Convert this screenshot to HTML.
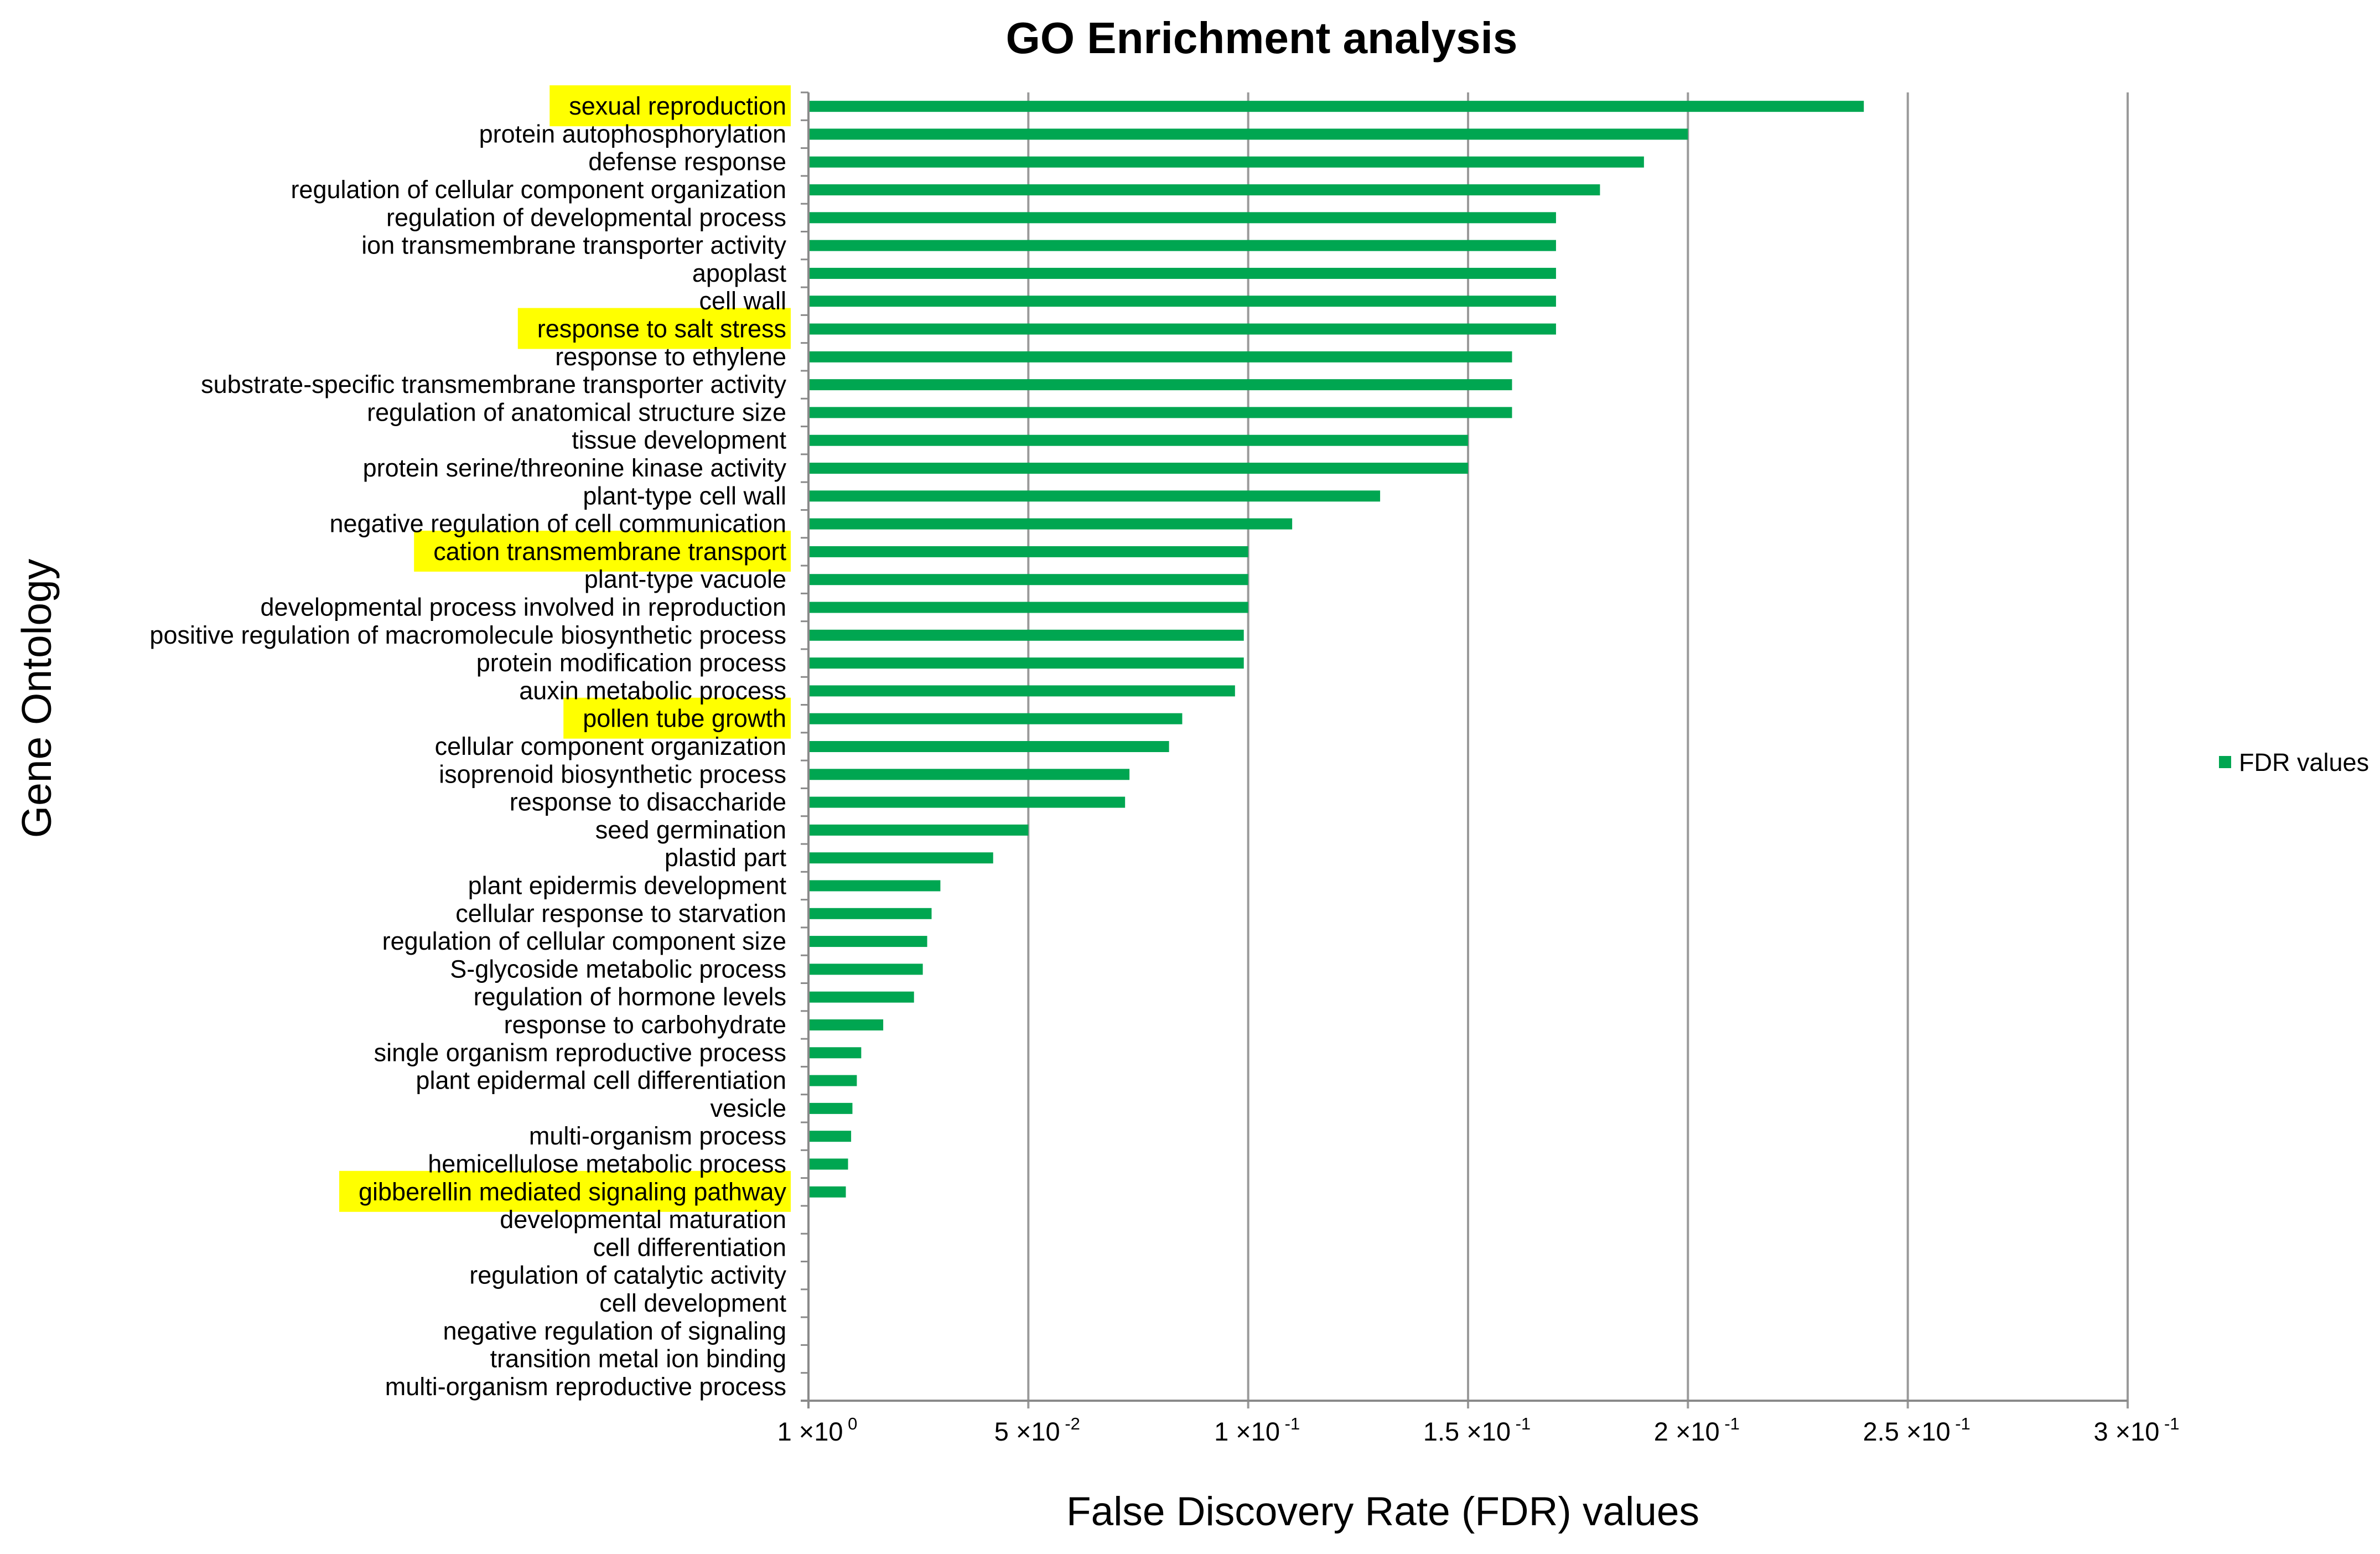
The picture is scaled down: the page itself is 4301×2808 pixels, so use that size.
<!DOCTYPE html>
<html><head><meta charset="utf-8"><style>
html,body{margin:0;padding:0;background:#fff;}
svg{display:block;font-family:"Liberation Sans",Arial,sans-serif;}
</style></head><body>
<svg id="chart" width="4301" height="2808" viewBox="0 0 4301 2808" xmlns="http://www.w3.org/2000/svg">
<text x="2280" y="96" text-anchor="middle" font-size="80" font-weight="bold" fill="#000">GO Enrichment analysis</text>
<text transform="translate(92,1262) rotate(-90)" text-anchor="middle" font-size="75" fill="#000">Gene Ontology</text>
<text x="2499" y="2756" text-anchor="middle" font-size="73" fill="#000">False Discovery Rate (FDR) values</text>
<g id="grid"></g><g id="hl"></g><g id="bars"></g><g id="labels"></g><g id="axes"></g>
<rect x="4010" y="1366" width="22" height="22" fill="#00A651"/>
<text x="4046" y="1393" font-size="45" fill="#000">FDR values</text>
</svg>
<script>
const categories = ["sexual reproduction","protein autophosphorylation","defense response","regulation of cellular component organization","regulation of developmental process","ion transmembrane transporter activity","apoplast","cell wall","response to salt stress","response to ethylene","substrate-specific transmembrane transporter activity","regulation of anatomical structure size","tissue development","protein serine/threonine kinase activity","plant-type cell wall","negative regulation of cell communication","cation transmembrane transport","plant-type vacuole","developmental process involved in reproduction","positive regulation of macromolecule biosynthetic process","protein modification process","auxin metabolic process","pollen tube growth","cellular component organization","isoprenoid biosynthetic process","response to disaccharide","seed germination","plastid part","plant epidermis development","cellular response to starvation","regulation of cellular component size","S-glycoside metabolic process","regulation of hormone levels","response to carbohydrate","single organism reproductive process","plant epidermal cell differentiation","vesicle","multi-organism process","hemicellulose metabolic process","gibberellin mediated signaling pathway","developmental maturation","cell differentiation","regulation of catalytic activity","cell development","negative regulation of signaling","transition metal ion binding","multi-organism reproductive process"];
const fdrValues = [0.24,0.2,0.19,0.18,0.17,0.17,0.17,0.17,0.17,0.16,0.16,0.16,0.15,0.15,0.13,0.11,0.1,0.1,0.1,0.099,0.099,0.097,0.085,0.082,0.073,0.072,0.05,0.042,0.030,0.028,0.027,0.026,0.024,0.017,0.012,0.011,0.010,0.0097,0.009,0.0085,0,0,0,0,0,0,0];
const highlighted = ["sexual reproduction","response to salt stress","cation transmembrane transport","pollen tube growth","gibberellin mediated signaling pathway"];
const tickValues = [0,0.05,0.1,0.15,0.2,0.25,0.3];
const tickMantissa = ["1","5","1","1.5","2","2.5","3"];
const tickExponent = ["0","-2","-1","-1","-1","-1","-1"];

const NS="http://www.w3.org/2000/svg";
const X0=1461, X1=3845, XMAX=0.3, TOP=167, BOT=2531;
const band=(BOT-TOP)/categories.length;
function xs(v){return X0+(v/XMAX)*(X1-X0);}
function yc(i){return TOP+band*(i+0.5);}
function mk(tag,attrs,parent){const e=document.createElementNS(NS,tag);for(const k in attrs)e.setAttribute(k,attrs[k]);document.getElementById(parent).appendChild(e);return e;}

tickValues.forEach((v,i)=>{
  if(v>0){const g=mk('line',{x1:xs(v),x2:xs(v),y1:TOP,y2:BOT+14,stroke:'#9a9a9a','stroke-width':4},'grid');
  
  }
  const t=mk('text',{x:xs(v)+16,y:2603,'text-anchor':'middle','font-size':47,fill:'#000'},'axes');
  
  
  t.textContent=tickMantissa[i]+' \u00d710';
  const s=document.createElementNS(NS,'tspan');s.setAttribute('dy','-20');s.setAttribute('font-size','31');s.textContent=' '+tickExponent[i];t.appendChild(s);
});
const ax=mk('line',{x1:X0,x2:X0,y1:TOP,y2:BOT+14,stroke:'#8a8a8a','stroke-width':4},'axes');


const bx=mk('line',{x1:X0-14,x2:X1,y1:BOT,y2:BOT,stroke:'#8a8a8a','stroke-width':4},'axes');


for(let i=0;i<categories.length;i++){
  const tk=mk('line',{x1:X0-14,x2:X0,y1:TOP+band*i,y2:TOP+band*i,stroke:'#8a8a8a','stroke-width':3},'axes');
  
  
}
categories.forEach((c,i)=>{
  const y=yc(i);
  const lab=mk('text',{x:1421,y:y+15,'text-anchor':'end','font-size':45,fill:'#000'},'labels');
  
  
  lab.textContent=c;
  if(highlighted.includes(c)){
    const w=lab.getComputedTextLength();
    const h=mk('rect',{x:1421-w-35,y:y-38,width:w+43,height:74,fill:'#FFFF00'},'hl');
    
    
  }
  const v=fdrValues[i];
  if(v>0){
    const b=mk('rect',{x:X0,y:y-10,width:xs(v)-X0,height:20,fill:'#00A651'},'bars');
    
    
  }
});
</script>
</body></html>
